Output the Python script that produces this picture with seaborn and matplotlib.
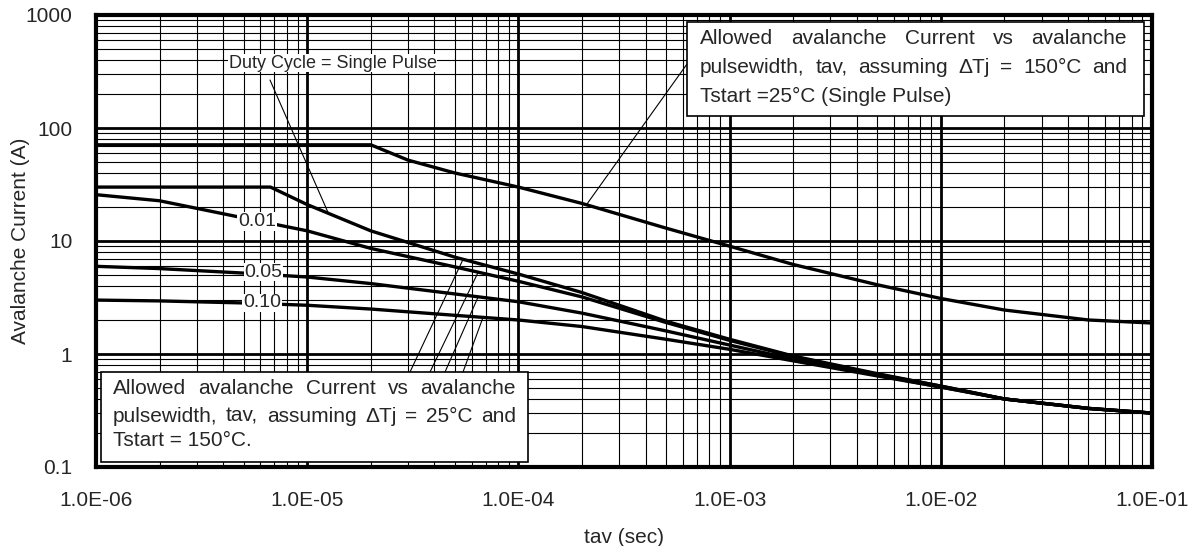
import matplotlib
matplotlib.use('Agg')
import matplotlib.pyplot as plt
from matplotlib.patches import Rectangle
from matplotlib.ticker import LogLocator, FuncFormatter, NullFormatter
import seaborn as sns
import numpy as np
import pandas as pd

# ---- data (tav in s, current in A) ----
# dTj = 150C, Tstart = 25C, single pulse
tav_hot = [1e-6, 2e-5, 3e-5, 5e-5, 1e-4, 2e-4, 5e-4, 1e-3, 2e-3, 5e-3, 1e-2, 2e-2, 5e-2, 1e-1]
iav_hot = [71, 71, 52, 40, 30, 21.5, 13, 9.0, 6.2, 4.1, 3.1, 2.45, 2.0, 1.88]

# dTj = 25C, Tstart = 150C, single pulse
tav_sp = [1e-6, 6.7e-6, 1e-5, 2e-5, 5e-5, 1e-4, 2e-4, 5e-4, 1e-3, 2e-3, 5e-3, 1e-2, 2e-2, 5e-2, 1e-1]
iav_sp = [30, 30, 21, 12.3, 7.2, 5.1, 3.5, 1.95, 1.35, 0.96, 0.67, 0.52, 0.40, 0.33, 0.30]

# dTj = 25C, duty cycles
tav_dc = [1e-6, 2e-6, 5e-6, 1e-5, 2e-5, 5e-5, 1e-4, 2e-4, 5e-4, 1e-3, 2e-3, 5e-3, 1e-2, 2e-2, 5e-2, 1e-1]
iav_d001 = [25.7, 22.7, 16, 12.3, 8.6, 5.9, 4.4, 3.2, 1.9, 1.32, 0.95, 0.66, 0.52, 0.40, 0.33, 0.30]
iav_d005 = [5.97, 5.7, 5.2, 4.8, 4.2, 3.4, 2.9, 2.3, 1.6, 1.2, 0.9, 0.65, 0.51, 0.40, 0.33, 0.30]
iav_d010 = [3.0, 2.95, 2.83, 2.7, 2.5, 2.2, 2.0, 1.75, 1.35, 1.1, 0.87, 0.64, 0.51, 0.40, 0.33, 0.30]

duty_labels = ['0.01', '0.05', '0.10']
duty_label_x = [5.8e-6, 6.2e-6, 6.1e-6]
duty_label_y = [14.9, 5.3, 2.83]

x_ticks = [1e-6, 1e-5, 1e-4, 1e-3, 1e-2, 1e-1]
y_ticks = [0.1, 1, 10, 100, 1000]

box_top_lines = ['Allowed avalanche Current vs avalanche',
                 'pulsewidth, tav, assuming \u0394Tj = 150\u00b0C and',
                 'Tstart =25\u00b0C (Single Pulse)']
box_bot_lines = ['Allowed avalanche Current vs avalanche',
                 'pulsewidth, tav, assuming \u0394Tj = 25\u00b0C and',
                 'Tstart = 150\u00b0C.']

W, H = 1195, 546

sns.set_style("white")
plt.rcParams['font.family'] = ['Liberation Sans', 'DejaVu Sans']

frames = []
for name, xs, ys in [('hot', tav_hot, iav_hot), ('sp', tav_sp, iav_sp),
                     ('d001', tav_dc, iav_d001), ('d005', tav_dc, iav_d005),
                     ('d010', tav_dc, iav_d010)]:
    frames.append(pd.DataFrame({'tav': xs, 'iav': ys, 'curve': name}))
df = pd.concat(frames, ignore_index=True)

fig = plt.figure(figsize=(W / 100, H / 100), dpi=100)
ax = fig.add_axes([96 / W, 1 - 467 / H, (1152 - 96) / W, (467 - 15) / H])

for name, grp in df.groupby('curve', sort=False):
    sns.lineplot(data=grp, x='tav', y='iav', color='black', lw=2.4,
                 sort=False, estimator=None, ax=ax, zorder=4)

ax.set_xscale('log')
ax.set_yscale('log')
ax.set_xlim(1e-6, 1e-1)
ax.set_ylim(0.1, 1000)
ax.set_xticks(x_ticks)
ax.set_yticks(y_ticks)
ax.xaxis.set_minor_locator(LogLocator(base=10, subs=np.arange(2, 10), numticks=20))
ax.yaxis.set_minor_locator(LogLocator(base=10, subs=np.arange(2, 10), numticks=20))
ax.xaxis.set_major_formatter(FuncFormatter(lambda v, p: f'{v:.1E}'))
ax.yaxis.set_major_formatter(FuncFormatter(lambda v, p: f'{v:g}'))
ax.xaxis.set_minor_formatter(NullFormatter())
ax.yaxis.set_minor_formatter(NullFormatter())
ax.tick_params(which='both', length=0)
ax.tick_params(axis='x', pad=17, labelsize=15)
ax.tick_params(axis='y', pad=17, labelsize=15)
ax.grid(which='major', color='black', lw=2.0)
ax.grid(which='minor', color='black', lw=0.8)
ax.set_axisbelow(True)
for sp in ax.spines.values():
    sp.set_linewidth(3.0)
    sp.set_color('black')
    sp.set_zorder(6)

ax.set_xlabel('tav (sec)', fontsize=15, labelpad=13)
ax.set_ylabel('Avalanche Current (A)', fontsize=15, labelpad=-3)


def curve_at(xs, ys, x):
    return 10 ** np.interp(np.log10(x), np.log10(xs), np.log10(ys))


# duty cycle labels on the curves
for lab, lx, ly in zip(duty_labels, duty_label_x, duty_label_y):
    ax.text(lx, ly, lab, fontsize=14, ha='center', va='center', zorder=5,
            bbox=dict(facecolor='white', edgecolor='none', pad=0.5))

ax.text(1.32e-5, 376, 'Duty Cycle = Single Pulse', fontsize=13, ha='center',
        va='center', zorder=5,
        bbox=dict(facecolor='white', edgecolor='none', pad=0.5))

lead = dict(arrowstyle='-', lw=0.8, color='black', shrinkA=0, shrinkB=0)


def leader(x_start_px, y_start_px, xs, ys, x_target):
    ax.annotate('', xy=(x_target, curve_at(xs, ys, x_target)),
                xytext=(x_start_px, H - y_start_px), textcoords='figure pixels',
                arrowprops=lead, zorder=5)


leader(270, 80, tav_sp, iav_sp, 1.26e-5)
leader(687, 64, tav_hot, iav_hot, 2.1e-4)
leader(410, 372, tav_sp, iav_sp, 5.47e-5)
leader(430, 372, tav_dc, iav_d001, 6.45e-5)
leader(445, 372, tav_dc, iav_d005, 6.45e-5)
leader(463, 372, tav_dc, iav_d010, 6.8e-5)

# text boxes
fig.add_artist(Rectangle((687 / W, 1 - 116 / H), (1144 - 687) / W, (116 - 21.6) / H,
                         transform=fig.transFigure, facecolor='white',
                         edgecolor='black', lw=1.2, zorder=7))
fig.add_artist(Rectangle((101 / W, 1 - 462 / H), (528 - 101) / W, (462 - 372) / H,
                         transform=fig.transFigure, facecolor='white',
                         edgecolor='black', lw=1.2, zorder=7))

renderer = fig.canvas.get_renderer()


def block(lines, x0, x1, baselines, size=15):
    for i, (line, yb) in enumerate(zip(lines, baselines)):
        if i == len(lines) - 1:
            fig.text(x0 / W, 1 - yb / H, line, fontsize=size, va='baseline',
                     ha='left', zorder=8)
            continue
        words = line.split(' ')
        widths = []
        for w in words:
            t = fig.text(0, 0, w, fontsize=size)
            widths.append(t.get_window_extent(renderer).width)
            t.remove()
        gap = (x1 - x0 - sum(widths)) / (len(words) - 1)
        x = x0
        for w, wd in zip(words, widths):
            fig.text(x / W, 1 - yb / H, w, fontsize=size, va='baseline',
                     ha='left', zorder=8)
            x += wd + gap


block(box_top_lines, 700, 1127, [44, 73, 101.5])
block(box_bot_lines, 113, 516, [393.5, 421.5, 446.5])

plt.savefig('out.png', dpi=100)
plt.close()
